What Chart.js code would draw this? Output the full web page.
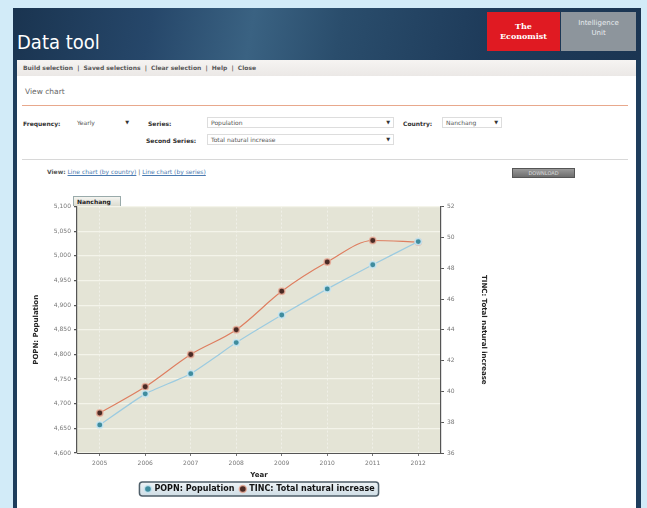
<!DOCTYPE html>
<html>
  <head>
    <meta charset="utf-8">
    <script src="https://cdn.jsdelivr.net/npm/chart.js@4.4.1/dist/chart.umd.min.js"></script>
  </head>

  <style>
    body {
        margin: 0;
        width: 647px;
        height: 508px;
        overflow: hidden;
        background-color: #d2ebf8;
        font-family: "DejaVu Sans", sans-serif;
        position: relative;
    }
    .frame {
        position: absolute;
        left: 13px;
        top: 8px;
        width: 628px;
        height: 520px;
        background-color: #1e3d5c;
    }
    .header {
        position: absolute;
        left: 0;
        top: 0;
        width: 628px;
        height: 52px;
        background: linear-gradient(100deg, #1a3450 0%, #26476a 22%, #3a6282 38%, #2a4d6c 52%, #1e3b5a 75%, #1b3552 100%);
    }
    .title {
        position: absolute;
        left: 4px;
        top: 22px;
        color: white;
        font-size: 20px;
        font-family: "DejaVu Sans Condensed", "DejaVu Sans", sans-serif;
    }
    .eco {
        position: absolute;
        left: 474px;
        top: 4px;
        width: 73px;
        height: 39px;
        background-color: #e01a22;
        color: white;
        font-family: "DejaVu Serif", serif;
        font-weight: bold;
        font-size: 8px;
        text-align: center;
        line-height: 10px;
        padding-top: 9px;
        box-sizing: border-box;
    }
    .eiu {
        position: absolute;
        left: 548px;
        top: 4px;
        width: 75px;
        height: 39px;
        background-color: #8d959c;
        color: #e8ecef;
        font-size: 7px;
        text-align: center;
        line-height: 10px;
        padding-top: 6px;
        box-sizing: border-box;
    }
    .panel {
        position: absolute;
        left: 4px;
        top: 52px;
        width: 619px;
        height: 470px;
        background-color: white;
    }
    .nav {
        position: absolute;
        left: 0;
        top: 0;
        width: 619px;
        height: 16px;
        background: linear-gradient(#f6f4f2, #ebe8e6);
        font-size: 6px;
        font-weight: bold;
        color: #5a5a5a;
        line-height: 16px;
        padding-left: 6px;
        box-sizing: border-box;
    }
    .viewchart {
        position: absolute;
        left: 8px;
        top: 27px;
        font-size: 7.5px;
        color: #666;
    }
    .orange {
        position: absolute;
        left: 5px;
        top: 45px;
        width: 606px;
        height: 1px;
        background-color: #e8a88c;
    }
    .grayline {
        position: absolute;
        left: 5px;
        top: 99px;
        width: 606px;
        height: 1px;
        background-color: #d8d8d8;
    }
    .lbl {
        position: absolute;
        font-size: 6px;
        font-weight: bold;
        color: #333;
    }
    .sel {
        position: absolute;
        height: 9px;
        border: 1px solid #ddd;
        font-size: 6px;
        color: #555;
        line-height: 9px;
        padding-left: 3px;
        box-sizing: content-box;
    }
    .sel span {
        position: absolute;
        right: 3px;
        top: 0;
        font-size: 5px;
        color: #333;
    }
    .links {
        position: absolute;
        left: 30px;
        top: 108px;
        font-size: 6px;
        color: #555;
    }
    .links a {
        color: #4a7ab0;
        text-decoration: underline;
        font-weight: normal;
    }
    .btn {
        position: absolute;
        left: 495px;
        top: 108px;
        width: 61px;
        height: 8px;
        background: linear-gradient(#9a9a9a, #6e6e6e);
        border: 1px solid #555;
        color: #ddd;
        font-size: 5px;
        text-align: center;
        line-height: 8px;
    }
    .tab {
        position: absolute;
        left: 56px;
        top: 136px;
        width: 48px;
        height: 10px;
        border: 1px solid #9aa;
        border-bottom: none;
        background: linear-gradient(#f4f4f0, #dcdcd0);
        font-size: 6px;
        font-weight: bold;
        color: #222;
        line-height: 10px;
        padding-left: 3px;
        box-sizing: border-box;
    }
    .chart {
        position: absolute;
        left: 13px;
        top: 140px;
        width: 460px;
        height: 307px;
    }
  </style>

  <body>
    <div class="frame">
      <div class="header">
        <div class="title">Data tool</div>
        <div class="eco">The<br>Economist</div>
        <div class="eiu">Intelligence<br>Unit</div>
      </div>
      <div class="panel">
        <div class="nav">Build selection &nbsp;|&nbsp; Saved selections &nbsp;|&nbsp; Clear selection &nbsp;|&nbsp; Help &nbsp;|&nbsp; Close</div>
        <div class="viewchart">View chart</div>
        <div class="orange"></div>

        <div class="lbl" style="left:6px; top:60px;">Frequency:</div>
        <div class="sel" style="left:56px; top:57px; width:55px; border-color:#fff;">Yearly<span>&#9660;</span></div>
        <div class="lbl" style="left:131px; top:60px;">Series:</div>
        <div class="sel" style="left:190px; top:57px; width:182px;">Population<span>&#9660;</span></div>
        <div class="lbl" style="left:386px; top:60px;">Country:</div>
        <div class="sel" style="left:425px; top:57px; width:55px;">Nanchang<span>&#9660;</span></div>
        <div class="lbl" style="left:129px; top:77px;">Second Series:</div>
        <div class="sel" style="left:190px; top:74px; width:182px;">Total natural increase<span>&#9660;</span></div>

        <div class="grayline"></div>
        <div class="links"><b>View:</b> <a>Line chart (by country)</a> | <a>Line chart (by series)</a></div>
        <div class="btn">DOWNLOAD</div>

        <div class="chart"><canvas id="line-chart"></canvas></div>
        <div class="tab">Nanchang</div>
      </div>
    </div>

<script>

  // values
  const years = ['2005', '2006', '2007', '2008', '2009', '2010', '2011', '2012'];
  const popnValues = [4657, 4720, 4761, 4824, 4880, 4933, 4982, 5029];
  const tincValues = [38.6, 40.3, 42.4, 44.0, 46.5, 48.4, 49.8, 49.7];
  const popnTicks = [4600, 4650, 4700, 4750, 4800, 4850, 4900, 4950, 5000, 5050, 5100];
  const tincTicks = [36, 38, 40, 42, 44, 46, 48, 50, 52];
  const popnLabel = 'POPN: Population';
  const tincLabel = 'TINC: Total natural increase';

  Chart.defaults.font.family = '"DejaVu Sans", sans-serif';
  Chart.defaults.animation = false;

  // plot background and the box round the legend
  const backdrop = {
      id: 'backdrop',
      beforeDraw(chart) {
          const ctx = chart.ctx;
          const a = chart.chartArea;
          ctx.save();
          ctx.fillStyle = '#e4e4d6';
          ctx.fillRect(a.left, a.top, a.right - a.left, a.bottom - a.top);

          const boxes = chart.legend.legendHitBoxes;
          if (boxes && boxes.length) {
              let x0 = Math.min(...boxes.map(b => b.left)) - 6;
              let x1 = Math.max(...boxes.map(b => b.left + b.width)) + 4;
              let y0 = Math.min(...boxes.map(b => b.top)) - 3;
              let y1 = Math.max(...boxes.map(b => b.top + b.height)) + 3;
              let g = ctx.createLinearGradient(0, y0, 0, y1);
              g.addColorStop(0, '#eef3f6');
              g.addColorStop(1, '#cfdde5');
              ctx.fillStyle = g;
              ctx.strokeStyle = '#4f5f6a';
              ctx.lineWidth = 1.5;
              ctx.beginPath();
              ctx.roundRect(x0, y0, x1 - x0, y1 - y0, 3);
              ctx.fill();
              ctx.stroke();
          }
          ctx.restore();
      }
  };

  new Chart(document.getElementById('line-chart'), {
      type: 'line',
      data: {
          labels: years,
          datasets: [
              {
                  label: popnLabel,
                  data: popnValues,
                  yAxisID: 'y',
                  fill: false,
                  borderColor: '#9ccbe0',
                  borderWidth: 1.2,
                  tension: 0.15,
                  pointBackgroundColor: '#3f8c9e',
                  pointBorderColor: 'rgba(200,230,242,0.9)',
                  pointBorderWidth: 1.5,
                  pointRadius: 3.2
              },
              {
                  label: tincLabel,
                  data: tincValues,
                  yAxisID: 'y2',
                  fill: false,
                  borderColor: '#de7e60',
                  borderWidth: 1.2,
                  cubicInterpolationMode: 'monotone',
                  pointBackgroundColor: '#4a2a24',
                  pointBorderColor: 'rgba(238,175,155,0.8)',
                  pointBorderWidth: 1.5,
                  pointRadius: 3.2
              }
          ]
      },
      options: {
          responsive: true,
          maintainAspectRatio: false,
          layout: { padding: { top: 1, bottom: 4, left: 0, right: 0 } },
          plugins: {
              legend: {
                  position: 'bottom',
                  labels: {
                      usePointStyle: true,
                      pointStyle: 'circle',
                      boxWidth: 5,
                      boxHeight: 5,
                      padding: 6,
                      color: '#111',
                      font: { size: 8, weight: 'bold' }
                  }
              },
              tooltip: { enabled: false }
          },
          scales: {
              x: {
                  offset: true,
                  grid: { color: 'rgba(255,255,255,0.45)', tickLength: 3, tickColor: '#777' },
                  border: { color: '#555', dash: [2, 2] },
                  ticks: { color: '#777', font: { size: 6 }, padding: 4 },
                  title: { display: true, text: 'Year', color: '#222', font: { size: 7, weight: 'bold' }, padding: 0 },
                  afterFit(scale) { scale.height = 26; }
              },
              y: {
                  position: 'left',
                  min: popnTicks[0],
                  max: popnTicks[popnTicks.length - 1],
                  afterBuildTicks(scale) { scale.ticks = popnTicks.map(v => ({ value: v })); },
                  grid: { color: '#f4f4ea', lineWidth: 1.2, tickLength: 3, tickColor: '#555' },
                  border: { color: '#555', width: 1.2 },
                  ticks: {
                      color: '#777',
                      font: { size: 6 },
                      padding: 3,
                      callback: v => v.toLocaleString('en-US')
                  },
                  title: { display: true, text: popnLabel, color: '#222', font: { size: 7, weight: 'bold' }, padding: 2 },
                  afterFit(scale) { scale.width = 47; }
              },
              y2: {
                  position: 'right',
                  min: tincTicks[0],
                  max: tincTicks[tincTicks.length - 1],
                  afterBuildTicks(scale) { scale.ticks = tincTicks.map(v => ({ value: v })); },
                  grid: { drawOnChartArea: false, tickLength: 3, tickColor: '#555' },
                  border: { color: '#555', width: 1.2 },
                  ticks: { color: '#777', font: { size: 6 }, padding: 3 },
                  title: { display: true, text: tincLabel, color: '#222', font: { size: 7, weight: 'bold' }, padding: 2 },
                  afterFit(scale) { scale.width = 49; }
              }
          }
      },
      plugins: [backdrop]
  });

</script>

</body>
</html>
